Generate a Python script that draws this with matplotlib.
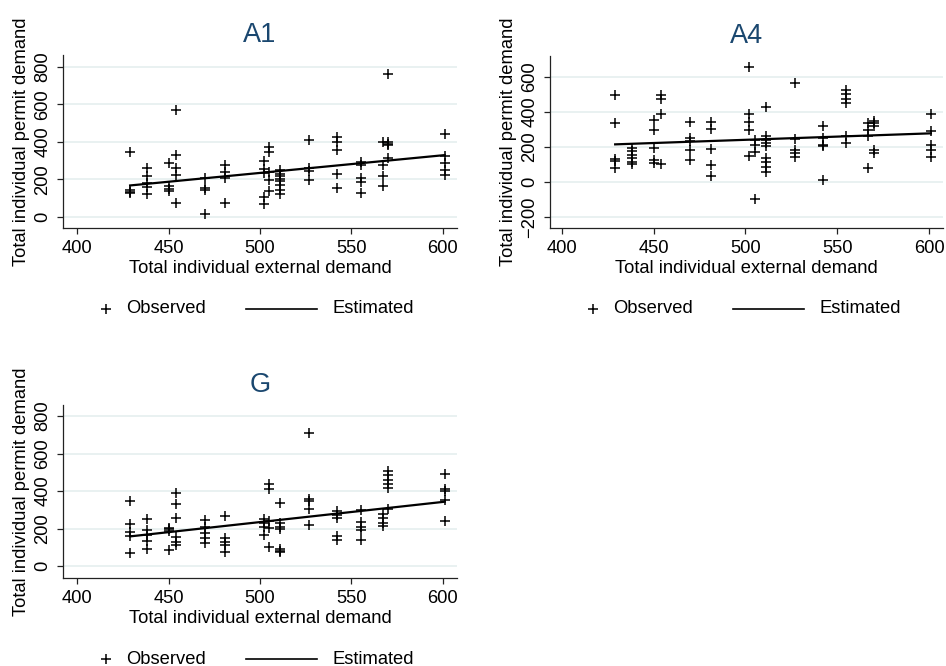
import numpy as np
import matplotlib.pyplot as plt
from matplotlib.lines import Line2D

plt.rcParams['font.family'] = ['Liberation Sans', 'DejaVu Sans']

# distinct external demand levels (x)
xs = [429, 438, 450, 454, 470, 481, 502, 505, 511, 527, 542, 555, 567, 570, 601]

# observed permit demand for each x level
a1_obs = [
    [345, 142, 135, 128],
    [263, 217, 180, 160, 122],
    [290, 165, 150, 140],
    [572, 331, 263, 222, 76],
    [208, 156, 145, 18],
    [276, 240, 210, 76],
    [297, 255, 235, 107, 71],
    [373, 347, 240, 195, 140],
    [249, 231, 217, 204, 190, 169, 142, 124],
    [409, 263, 245, 199],
    [427, 400, 359, 228, 156],
    [293, 276, 208, 187, 128],
    [400, 276, 219, 165],
    [761, 402, 390, 382, 316],
    [444, 324, 288, 252, 222],
]
a4_obs = [
    [495, 335, 130, 118, 80],
    [195, 175, 155, 135, 115, 100],
    [355, 295, 196, 128, 110],
    [499, 476, 391, 105],
    [343, 253, 234, 185, 124],
    [343, 301, 187, 95, 32],
    [657, 391, 345, 295, 147],
    [238, 210, 171, -99],
    [428, 265, 238, 220, 205, 135, 112, 88, 57],
    [568, 248, 185, 166, 143],
    [318, 250, 210, 205, 10],
    [525, 500, 475, 450, 260, 225],
    [335, 295, 260, 80],
    [350, 335, 320, 180, 165],
    [390, 290, 210, 185, 145],
]
g_obs = [
    [347, 225, 180, 160, 70],
    [250, 190, 165, 135, 93],
    [205, 195, 185, 88],
    [390, 330, 255, 155, 130, 110],
    [245, 210, 175, 150, 125],
    [267, 150, 130, 110, 75],
    [250, 230, 210, 165],
    [440, 410, 240, 205, 102],
    [335, 230, 210, 195, 90, 80, 75],
    [711, 360, 345, 305, 220],
    [295, 270, 255, 160, 140],
    [300, 235, 210, 190, 140],
    [280, 255, 230, 215],
    [505, 485, 460, 435, 415, 305],
    [490, 410, 398, 350, 240],
]

# estimated line: fitted values at the first and last x
est_x = [429, 601]
a1_est = [168, 330]
a4_est = [215, 278]
g_est = [158, 343]

W, H = 946, 666
fig = plt.figure(figsize=(W / 100, H / 100), dpi=100)

def px(x):
    return x / W

def py(y):
    return 1 - y / H

grid_c = '#e3eded'
title_c = '#1a476f'

panels = [
    # title, obs, est, box(left, top, right, bottom px), ylim, yticks, xlim
    ('A1', a1_obs, a1_est, (63, 55, 457, 228), (-59, 864), [0, 200, 400, 600, 800], (392.3, 607.7)),
    ('A4', a4_obs, a4_est, (550, 56, 943, 228), (-263, 720), [-200, 0, 200, 400, 600], (393.5, 607.6)),
    ('G', g_obs, g_est, (63, 405, 457, 578), (-64, 859), [0, 200, 400, 600, 800], (392.3, 607.7)),
]

for title, obs, est, box, ylim, yticks, xlim in panels:
    l, t, r, b = box
    ax = fig.add_axes([px(l), py(b), px(r - l), (b - t) / H])
    ox = []
    oy = []
    for xv, vals in zip(xs, obs):
        ox += [xv] * len(vals)
        oy += vals
    ax.plot(ox, oy, '+', color='black', markersize=7.5, markeredgewidth=1.1, clip_on=False, zorder=3)
    ax.plot(est_x, est, '-', color='black', linewidth=1.6, zorder=4)
    ax.set_xlim(*xlim)
    ax.set_ylim(*ylim)
    ax.set_xticks([400, 450, 500, 550, 600])
    ax.set_yticks(yticks)
    ax.set_yticklabels([str(v).replace('-', '\u2212') for v in yticks], rotation=90, va='center')
    for v in yticks:
        ax.axhline(v, color=grid_c, linewidth=1.1, zorder=0)
    ax.spines['top'].set_visible(False)
    ax.spines['right'].set_visible(False)
    for s in ['left', 'bottom']:
        ax.spines[s].set_color('#222222')
        ax.spines[s].set_linewidth(0.9)
    ax.tick_params(labelsize=13.2, length=4, width=0.9, color='#222222', pad=4.5)
    ax.set_xlabel('Total individual external demand', fontsize=13.2, labelpad=2)
    ax.set_ylabel('Total individual permit demand', fontsize=13.2, labelpad=3)
    cx = (l + r) / 2
    fig.text(px(cx), py(t - 20), title, fontsize=19.5, color=title_c, ha='center', va='center')

    # legend below the panel
    ly = b + 81
    fig.add_artist(Line2D([px(l + 43)], [py(ly)], marker='+', color='black',
                          markersize=7.5, markeredgewidth=1.1, transform=fig.transFigure))
    fig.text(px(l + 63), py(ly), 'Observed', fontsize=13.2, ha='left', va='center')
    fig.add_artist(Line2D([px(l + 183), px(l + 254)], [py(ly), py(ly)], color='black',
                          linewidth=1.2, transform=fig.transFigure))
    fig.text(px(l + 269), py(ly), 'Estimated', fontsize=13.2, ha='left', va='center')

fig.savefig('out.png', dpi=100)
